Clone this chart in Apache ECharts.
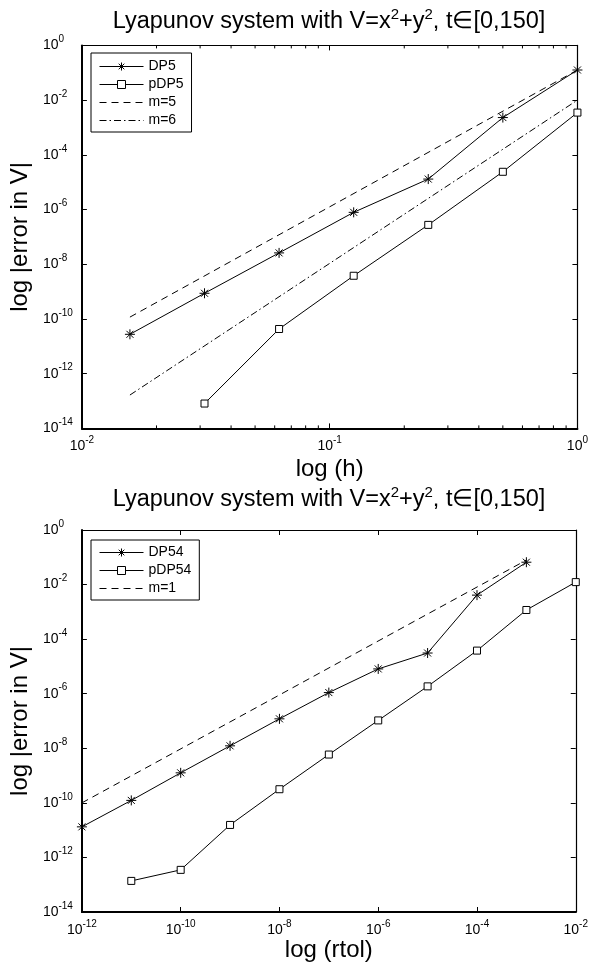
<!DOCTYPE html>
<html>
<head>
<meta charset="utf-8">
<script src="https://cdn.jsdelivr.net/npm/echarts@6/dist/echarts.min.js"></script>
<style>html,body{margin:0;padding:0;background:#fff}#c{width:591px;height:967px}</style>
</head>
<body>
<div id="c"></div>
<script>
// ---------- data ----------
const hValues    = [0.015625, 0.03125, 0.0625, 0.125, 0.25, 0.5, 1];
const dp5Err     = [2.75e-11, 8.7e-10, 2.6e-8, 7.9e-7, 1.3e-5, 2.3e-3, 0.126];
const pdp5H      = [0.03125, 0.0625, 0.125, 0.25, 0.5, 1];
const pdp5Err    = [8.1e-14, 4.3e-11, 3.8e-9, 2.75e-7, 2.4e-5, 3.5e-3];
const m5H        = [0.015625, 1];
const m5Err      = [1.17e-10, 0.126];
const m6H        = [0.015625, 1];
const m6Err      = [1.66e-13, 0.0100];

const rtolDP54   = [1e-12, 1e-11, 1e-10, 1e-9, 1e-8, 1e-7, 1e-6, 1e-5, 1e-4, 1e-3];
const dp54Err    = [1.32e-11, 1.23e-10, 1.26e-9, 1.23e-8, 1.2e-7, 1.1e-6, 8.1e-6, 3.1e-5, 4.1e-3, 6.6e-2];
const rtolPDP54  = [1e-11, 1e-10, 1e-9, 1e-8, 1e-7, 1e-6, 1e-5, 1e-4, 1e-3, 1e-2];
const pdp54Err   = [1.38e-13, 3.5e-13, 1.55e-11, 3.16e-10, 5.9e-9, 1.05e-7, 1.86e-6, 3.8e-5, 1.17e-3, 1.23e-2];
const m1Rtol     = [1e-12, 1e-3];
const m1Err      = [1e-10, 7.9e-2];

// tick positions (minor ticks of the top x axis: 2..9 x 10^k)
const topMinorTicks = [0.02,0.03,0.04,0.05,0.06,0.07,0.08,0.09,0.2,0.3,0.4,0.5,0.6,0.7,0.8,0.9];
const legendTop    = ['DP5', 'pDP5', 'm=5', 'm=6'];
const legendBottom = ['DP54', 'pDP54', 'm=1'];
const refNames     = ['m=5', 'm=6', 'm=1'];
const titleText = 'Lyapunov system with V=x{s|2}+y{s|2}, t\u2208[0,150]';
const yName = 'log |error in V|';
// -------------------------------------------------

const FF = '"Liberation Sans", Arial, Helvetica, sans-serif';
const pairs = (xs, ys) => xs.map((x, i) => [x, ys[i]]);
const supFmt = v => '{b|10}{s|' + Math.round(Math.log10(v)) + '}';
const tickRich = {
  b: {fontSize: 14, fontFamily: FF, color: '#000'},
  s: {fontSize: 10, fontFamily: FF, color: '#000', padding: [0, 0, 12, 0]}
};
const NAME_SIZE = 24;
const DASH = [7, 5];
const DASHDOT = [7, 3, 1.5, 3];

const grids = [
  {left: 80.5, top: 45.4, width: 497.5, height: 383},
  {left: 80.5, top: 530, width: 497.5, height: 382}
];

function mainX(gi, min, max, interval, name, gap) {
  return {type: 'log', logBase: 10, gridIndex: gi, min, max, interval, position: 'bottom',
    name, nameLocation: 'middle', nameGap: gap,
    nameTextStyle: {fontSize: NAME_SIZE, fontFamily: FF, color: '#000'},
    axisLine: {show: true, onZero: false, lineStyle: {color: '#000', width: 2}},
    axisTick: {show: true, inside: true, length: 5, lineStyle: {color: '#000', width: 1}},
    axisLabel: {show: true, margin: 7, formatter: supFmt, rich: tickRich},
    splitLine: {show: false}, minorTick: {show: false}};
}
function mirrorX(gi, min, max, interval) {
  return {type: 'log', logBase: 10, gridIndex: gi, min, max, interval, position: 'top',
    axisLine: {show: true, onZero: false, lineStyle: {color: '#000', width: 1.2}},
    axisTick: {show: true, inside: true, length: 5, lineStyle: {color: '#000', width: 1}},
    axisLabel: {show: false}, splitLine: {show: false}};
}
function mainY(gi) {
  return {type: 'log', logBase: 10, gridIndex: gi, min: 1e-14, max: 1, interval: 2, position: 'left',
    name: yName, nameLocation: 'middle', nameGap: 46,
    nameTextStyle: {fontSize: NAME_SIZE, fontFamily: FF, color: '#000'},
    axisLine: {show: true, onZero: false, lineStyle: {color: '#000', width: 2}},
    axisTick: {show: true, inside: true, length: 5, lineStyle: {color: '#000', width: 1}},
    axisLabel: {show: true, margin: 39, align: 'left', formatter: supFmt, rich: tickRich},
    splitLine: {show: false}};
}
function mirrorY(gi) {
  return {type: 'log', logBase: 10, gridIndex: gi, min: 1e-14, max: 1, interval: 2, position: 'right',
    axisLine: {show: true, onZero: false, lineStyle: {color: '#000', width: 1.2}},
    axisTick: {show: true, inside: true, length: 5, lineStyle: {color: '#000', width: 1}},
    axisLabel: {show: false}, splitLine: {show: false}};
}

const STAR = 'path://M0,-10L0,10M-10,0L10,0M-7,-7L7,7M-7,7L7,-7';
function markerSeries(name, data, xi, yi, star) {
  return {type: 'line', name, data, xAxisIndex: xi, yAxisIndex: yi,
    symbol: star ? STAR : 'rect', symbolSize: star ? 10 : 7, showSymbol: true,
    lineStyle: {color: '#000', width: 1},
    itemStyle: star ? {color: '#000', borderColor: '#000', borderWidth: 1}
                    : {color: '#fff', borderColor: '#000', borderWidth: 1},
    z: 5};
}
function refSeries(name, data, xi, yi, dash) {
  return {type: 'line', name, data, xAxisIndex: xi, yAxisIndex: yi, symbol: 'none',
    lineStyle: {color: '#000', width: 1, type: dash}, itemStyle: {color: '#000'}, z: 4};
}

function legendCfg(names, top, padTop) {
  return {
    data: names.map(n => refNames.includes(n) ? {name: n, itemStyle: {opacity: 0}} : {name: n}),
    orient: 'vertical', left: 91, top, selectedMode: false,
    backgroundColor: '#fff', borderColor: '#000', borderWidth: 1, padding: [padTop, 8, 4, 8],
    itemWidth: 44, itemHeight: 10, itemGap: 3,
    lineStyle: {width: 1},
    itemStyle: {borderWidth: 1},
    textStyle: {fontSize: 14, fontFamily: FF, color: '#000', lineHeight: 15}};
}

const titleStyle = y => ({type: 'text', x: 329, y, style: {text: titleText, align: 'center', verticalAlign: 'top',
  fill: '#000', fontSize: 23.5, fontFamily: FF,
  rich: {s: {fontSize: 15, fontFamily: FF, fill: '#000', padding: [0, 0, 14, 0]}}}});

const option = {
  animation: false,
  backgroundColor: '#fff',
  grid: grids,
  xAxis: [mainX(0, 0.01, 1, 1, 'log (h)', 29), mirrorX(0, 0.01, 1, 1),
          mainX(1, 1e-12, 1e-2, 2, 'log (rtol)', 23), mirrorX(1, 1e-12, 1e-2, 2)],
  yAxis: [mainY(0), mirrorY(0), mainY(1), mirrorY(1)],
  legend: [legendCfg(legendTop, 53, 6), legendCfg(legendBottom, 540, 5)],
  graphic: [titleStyle(7), titleStyle(485)],
  series: [
    refSeries('m=5', pairs(m5H, m5Err), 0, 0, DASH),
    refSeries('m=6', pairs(m6H, m6Err), 0, 0, DASHDOT),
    markerSeries('DP5', pairs(hValues, dp5Err), 0, 0, true),
    markerSeries('pDP5', pairs(pdp5H, pdp5Err), 0, 0, false),
    refSeries('m=1', pairs(m1Rtol, m1Err), 2, 2, DASH),
    markerSeries('DP54', pairs(rtolDP54, dp54Err), 2, 2, true),
    markerSeries('pDP54', pairs(rtolPDP54, pdp54Err), 2, 2, false),
    {type: 'custom', name: 'minorTicks', xAxisIndex: 0, yAxisIndex: 0, silent: true, clip: false,
      data: topMinorTicks.map(v => [v, 1e-14]),
      renderItem: (params, api) => {
        const x = api.value(0);
        const b = api.coord([x, 1e-14]);
        const t = api.coord([x, 1]);
        return {type: 'group', children: [
          {type: 'line', shape: {x1: b[0], y1: b[1], x2: b[0], y2: b[1] - 3}, style: {stroke: '#000', lineWidth: 1}},
          {type: 'line', shape: {x1: t[0], y1: t[1], x2: t[0], y2: t[1] + 3}, style: {stroke: '#000', lineWidth: 1}}
        ]};
      }}
  ]
};

const chart = echarts.init(document.getElementById('c'), null, {renderer: 'canvas'});
chart.setOption(option);
</script>
</body>
</html>
